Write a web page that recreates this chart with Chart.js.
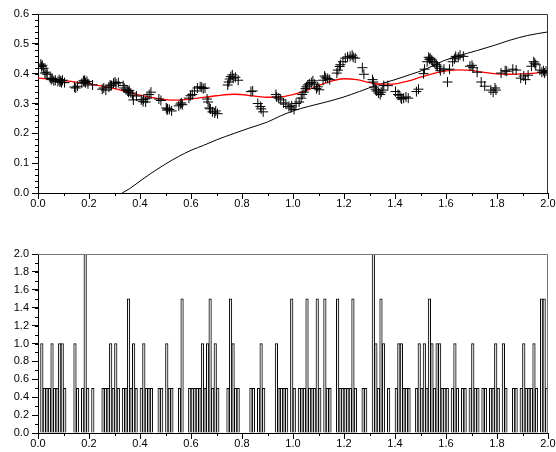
<!DOCTYPE html>
<html>
<head>
<meta charset="utf-8">
<script src="https://cdn.jsdelivr.net/npm/chart.js@4.4.0/dist/chart.umd.min.js"></script>
<style>
  body { margin: 0; background: #fff; }
  canvas { position: absolute; left: 0; }
  #topChart { top: 0; }
  #histChart { top: 226px; }
</style>
</head>
<body>
<canvas id="topChart" width="556" height="226"></canvas>
<canvas id="histChart" width="556" height="226"></canvas>
<script>
// noisy samples (the "+" markers)
const sampleX = [
  0.011,0.014,0.017,0.022,0.027,0.032,0.036,0.048,0.052,0.056,
  0.062,0.068,0.078,0.083,0.086,0.089,0.092,0.096,0.104,0.143,
  0.148,0.155,0.172,0.178,0.181,0.183,0.186,0.192,0.196,0.214,
  0.252,0.258,0.266,0.278,0.283,0.288,0.296,0.302,0.306,0.315,
  0.334,0.338,0.345,0.352,0.355,0.358,0.364,0.371,0.374,0.386,
  0.405,0.412,0.414,0.422,0.428,0.436,0.443,0.474,0.482,0.503,
  0.506,0.508,0.515,0.524,0.552,0.558,0.562,0.566,0.592,0.598,
  0.605,0.614,0.625,0.636,0.642,0.648,0.655,0.663,0.667,0.672,
  0.676,0.684,0.693,0.697,0.704,0.744,0.748,0.752,0.756,0.762,
  0.765,0.774,0.785,0.835,0.842,0.862,0.872,0.875,0.883,0.933,
  0.936,0.944,0.952,0.963,0.972,0.984,0.992,0.995,1.004,1.012,
  1.024,1.032,1.036,1.043,1.049,1.053,1.058,1.064,1.072,1.078,
  1.085,1.092,1.097,1.103,1.118,1.124,1.128,1.136,1.144,1.172,
  1.176,1.183,1.186,1.196,1.205,1.214,1.224,1.232,1.236,1.244,
  1.272,1.278,1.312,1.315,1.318,1.324,1.328,1.335,1.342,1.346,
  1.352,1.356,1.372,1.402,1.412,1.416,1.423,1.426,1.434,1.443,
  1.452,1.484,1.492,1.512,1.516,1.526,1.532,1.535,1.538,1.544,
  1.548,1.556,1.562,1.566,1.575,1.578,1.592,1.606,1.614,1.626,
  1.633,1.638,1.648,1.655,1.668,1.694,1.702,1.706,1.722,1.738,
  1.752,1.776,1.785,1.792,1.796,1.816,1.832,1.838,1.862,1.875,
  1.893,1.905,1.912,1.922,1.935,1.944,1.948,1.952,1.968,1.976,
  1.982,1.986,1.992
];
const sampleY = [
  0.432,0.424,0.428,0.418,0.402,0.405,0.398,0.385,0.380,0.384,
  0.376,0.378,0.374,0.380,0.372,0.376,0.370,0.378,0.370,0.355,
  0.352,0.358,0.368,0.376,0.372,0.378,0.370,0.374,0.366,0.362,
  0.348,0.352,0.345,0.355,0.362,0.360,0.368,0.372,0.366,0.370,
  0.360,0.352,0.346,0.342,0.338,0.344,0.335,0.328,0.312,0.325,
  0.312,0.306,0.314,0.305,0.318,0.330,0.338,0.315,0.310,0.285,
  0.278,0.282,0.280,0.275,0.292,0.298,0.302,0.296,0.318,0.326,
  0.330,0.342,0.352,0.356,0.354,0.350,0.352,0.315,0.305,0.285,
  0.282,0.272,0.268,0.275,0.266,0.362,0.372,0.382,0.390,0.396,
  0.385,0.388,0.378,0.340,0.342,0.300,0.290,0.282,0.272,0.330,
  0.322,0.318,0.312,0.302,0.298,0.290,0.285,0.292,0.280,0.300,
  0.305,0.318,0.330,0.338,0.350,0.356,0.362,0.366,0.370,0.376,
  0.365,0.350,0.356,0.346,0.378,0.392,0.386,0.384,0.380,0.402,
  0.412,0.424,0.430,0.440,0.452,0.456,0.458,0.462,0.455,0.452,
  0.420,0.398,0.380,0.372,0.355,0.348,0.342,0.335,0.330,0.338,
  0.345,0.360,0.360,0.340,0.330,0.328,0.320,0.315,0.318,0.322,
  0.318,0.340,0.348,0.400,0.415,0.440,0.455,0.448,0.452,0.446,
  0.440,0.436,0.430,0.425,0.418,0.410,0.415,0.372,0.415,0.440,
  0.450,0.458,0.455,0.462,0.458,0.425,0.428,0.420,0.405,0.372,
  0.358,0.345,0.338,0.352,0.345,0.402,0.410,0.408,0.415,0.412,
  0.385,0.392,0.380,0.395,0.425,0.440,0.435,0.430,0.412,0.405,
  0.410,0.402,0.408
];

// smooth fit (red)
const fitX = [0, 0.1, 0.2, 0.3, 0.4, 0.5, 0.55, 0.6, 0.7, 0.77, 0.85, 0.9, 0.95, 1.0, 1.05, 1.1,
  1.15, 1.2, 1.25, 1.3, 1.35, 1.4, 1.45, 1.5, 1.55, 1.6, 1.65, 1.7, 1.75, 1.8, 1.85, 1.9, 1.95, 2.0];
const fitY = [0.385, 0.377, 0.366, 0.350, 0.328, 0.313, 0.311, 0.315, 0.326, 0.331, 0.325, 0.321, 0.322, 0.330, 0.342, 0.360,
  0.375, 0.383, 0.380, 0.370, 0.365, 0.366, 0.375, 0.388, 0.400, 0.409, 0.413, 0.411, 0.404, 0.399, 0.398, 0.399, 0.402, 0.407];

// rising black curve
const curveX = [0.33, 0.36, 0.40, 0.44, 0.50, 0.55, 0.60, 0.65, 0.70, 0.77, 0.83, 0.90, 0.95, 1.00,
  1.06, 1.13, 1.20, 1.26, 1.33, 1.40, 1.46, 1.52, 1.59, 1.65, 1.72, 1.79, 1.85, 1.92, 2.00];
const curveY = [0.0, 0.015, 0.040, 0.064, 0.097, 0.122, 0.143, 0.160, 0.178, 0.200, 0.218, 0.238, 0.258, 0.275,
  0.290, 0.305, 0.322, 0.340, 0.362, 0.380, 0.397, 0.415, 0.443, 0.460, 0.477, 0.495, 0.512, 0.528, 0.540];

// histogram, 200 bins of width 0.01 on [0, 2]
const binWidth = 0.01;
const histValues = [
  0,1,0.5,0.5,0.5,1,0.5,0.5,1,1, 0.5,0,0,0,1,0.5,0,0.5,2,0.5,
  0,0.5,0,0,0,0.5,0.5,0.5,1,0.5, 1,0.5,0,0.5,0.5,1.5,0.5,1,0.5,0,
  0.5,1,0.5,0.5,0.5,0,0,0.5,0.5,0, 1,0.5,0.5,0,0,0.5,1.5,0,0,0.5,
  0.5,0.5,0.5,0.5,1,0.5,1,1.5,0.5,1, 0.5,0,0,0,0.5,1.5,1,0.5,0.5,0,
  0,0,0,0.5,0.5,0,0.5,1,0.5,0, 0,0,0,1,0.5,0.5,0.5,0.5,0,1.5,
  0.5,0,0.5,0.5,0.5,1.5,0.5,0.5,0.5,1.5, 0.5,0,1.5,0.5,0.5,0,0,1.5,0.5,0.5,
  0.5,0.5,0.5,1.5,0.5,0,0,0.5,0.5,0, 0,2,1,0.5,1.5,1,0,0.5,0,0,
  0.5,1,1,0.5,0.5,0.5,0,0,0.5,1, 0.5,1,0.5,1.5,1,0.5,1,1,0.5,0.5,
  0.5,0,0.5,1,0.5,0,0.5,0.5,0,0.5, 1,0.5,0.5,0,0.5,0.5,0,0.5,0.5,1,
  0.5,0,1,0.5,0,0,0.5,0.5,0,0.5, 1,0.5,0.5,0.5,1,0.5,0,1.5,1.5,0.5
];

const FONT = { family: 'Liberation Sans, Arial, sans-serif', size: 11 };

// minor ticks + top/right frame
const axisExtras = {
  id: 'axisExtras',
  afterDraw(chart, args, opts) {
    const { ctx, chartArea: a, scales } = chart;
    ctx.save();
    ctx.strokeStyle = '#000';
    ctx.lineWidth = 1;
    ctx.beginPath();
    for (let k = 1; k * opts.xMinor < scales.x.max - 1e-9; k++) {
      const px = Math.round(scales.x.getPixelForValue(k * opts.xMinor)) + 0.5;
      ctx.moveTo(px, a.bottom);
      ctx.lineTo(px, a.bottom + 3);
    }
    for (let k = 1; k * opts.yMinor < scales.y.max - 1e-9; k++) {
      const py = Math.round(scales.y.getPixelForValue(k * opts.yMinor)) + 0.5;
      ctx.moveTo(a.left - 3, py);
      ctx.lineTo(a.left, py);
    }
    ctx.stroke();
    ctx.strokeStyle = opts.frameColor;
    ctx.beginPath();
    ctx.moveTo(a.left, a.top + 0.5);
    ctx.lineTo(a.right - 0.5, a.top + 0.5);
    ctx.lineTo(a.right - 0.5, a.bottom);
    ctx.stroke();
    ctx.restore();
  }
};

function xAxis(h) {
  return {
    type: 'linear', min: 0, max: 2, offset: false,
    ticks: { stepSize: 0.2, font: FONT, color: '#000', padding: -2, maxRotation: 0, autoSkip: false,
      callback: v => v.toFixed(1) },
    grid: { drawOnChartArea: false, drawTicks: true, tickLength: 6, color: '#000', offset: false },
    border: { display: true, color: '#000', width: 1 },
    afterFit: s => { s.height = h; }
  };
}
function yAxis(max, step) {
  return {
    min: 0, max: max,
    ticks: { stepSize: step, font: FONT, color: '#000', padding: 3, callback: v => v.toFixed(1) },
    grid: { drawOnChartArea: false, drawTicks: true, tickLength: 6, color: '#000' },
    border: { display: true, color: '#000', width: 1 },
    afterFit: s => { s.width = 38; }
  };
}

new Chart(document.getElementById('topChart'), {
  type: 'scatter',
  data: {
    datasets: [
      {
        data: sampleX.map((x, i) => ({ x: x, y: sampleY[i] })),
        pointStyle: 'cross', pointRadius: 5, borderColor: '#000', borderWidth: 1, showLine: false
      },
      {
        data: fitX.map((x, i) => ({ x: x, y: fitY[i] })),
        showLine: true, pointRadius: 0, borderColor: '#ff0000', borderWidth: 1.3,
        cubicInterpolationMode: 'monotone'
      },
      {
        data: curveX.map((x, i) => ({ x: x, y: curveY[i] })),
        showLine: true, pointRadius: 0, borderColor: '#000', borderWidth: 1,
        cubicInterpolationMode: 'monotone'
      }
    ]
  },
  options: {
    responsive: false, animation: false, devicePixelRatio: 1,
    layout: { padding: { left: 0, right: 8, top: 14, bottom: 0 } },
    plugins: { legend: { display: false }, tooltip: { enabled: false },
      axisExtras: { xMinor: 0.1, yMinor: 0.02, frameColor: '#333' } },
    scales: { x: xAxis(33), y: yAxis(0.6, 0.1) }
  },
  plugins: [axisExtras]
});

new Chart(document.getElementById('histChart'), {
  type: 'bar',
  data: {
    datasets: [{
      data: histValues.map((v, i) => ({ x: (i + 0.5) * binWidth, y: v })),
      backgroundColor: '#f2f2f2', borderColor: '#000', borderWidth: 1,
      barPercentage: 1, categoryPercentage: 1
    }]
  },
  options: {
    responsive: false, animation: false, devicePixelRatio: 1,
    layout: { padding: { left: 0, right: 8, top: 28, bottom: 0 } },
    plugins: { legend: { display: false }, tooltip: { enabled: false },
      axisExtras: { xMinor: 0.1, yMinor: 0.1, frameColor: '#777' } },
    scales: { x: xAxis(19), y: yAxis(2, 0.2) }
  },
  plugins: [axisExtras]
});
</script>
</body>
</html>
